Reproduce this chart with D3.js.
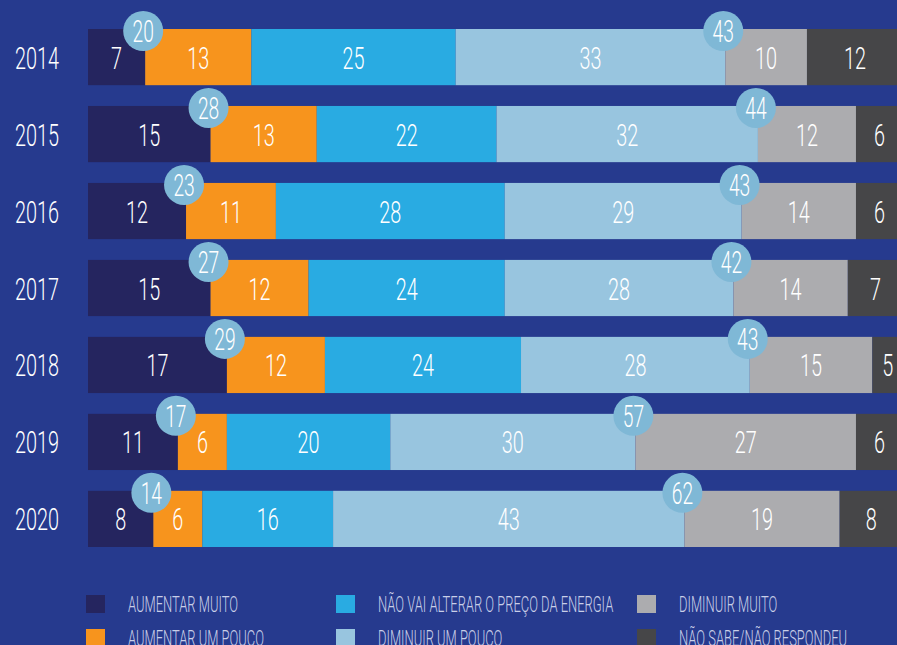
<!DOCTYPE html>
<html>
<head>
<meta charset="utf-8">
<script src="https://cdn.jsdelivr.net/npm/d3@7"></script>
<style>
  body { margin: 0; background: #263a8e; overflow: hidden; }
  svg { display: block; }
  text { font-family: Roboto, "Liberation Sans Narrow", sans-serif; font-weight: 300; }
</style>
</head>
<body>
<div id="chart"></div>
<script>
//*********************** DATA ***********************
var years = ["2014", "2015", "2016", "2017", "2018", "2019", "2020"];
var categories = ["Aumentar muito", "Aumentar um pouco", "Não vai alterar o preço da energia",
                  "Diminuir um pouco", "Diminuir muito", "Não sabe/Não respondeu"];
var aumentarMuito   = [7, 15, 12, 15, 17, 11, 8];
var aumentarPouco   = [13, 13, 11, 12, 12, 6, 6];
var naoAltera       = [25, 22, 28, 24, 24, 20, 16];
var diminuirPouco   = [33, 32, 29, 28, 28, 30, 43];
var diminuirMuito   = [10, 12, 14, 14, 15, 27, 19];
var naoSabe         = [12, 6, 6, 7, 5, 6, 8];
var colors = ["#25255f", "#f7941d", "#29abe2", "#98c5df", "#acacaf", "#464648"];

//*********************** DECLARE VARIABLES ***********************
var width = 897,
    height = 645,
    squeeze = 0.62,
    fontSize = 32;

var series = [aumentarMuito, aumentarPouco, naoAltera, diminuirPouco, diminuirMuito, naoSabe];
var data = years.map(function(y, i) {
  var row = {year: y};
  categories.forEach(function(c, j) { row[c] = series[j][i]; });
  return row;
});

var xScale = d3.scaleLinear().domain([0, 100]).range([88, 905]),
    yScale = d3.scaleBand().domain(years).range([29, 547]).paddingInner(0.27).paddingOuter(0),
    color = d3.scaleOrdinal().domain(categories).range(colors);

var stacked = d3.stack().keys(categories)(data);

var svg = d3.select("#chart").append("svg")
  .attr("width", width)
  .attr("height", height);

function label(g, x, y, txt, size, fill) {
  g.append("text")
    .attr("transform", "translate(" + x + "," + y + ") scale(" + squeeze + ",1)")
    .attr("text-anchor", "middle")
    .attr("font-size", size)
    .attr("fill", fill)
    .text(txt);
}

//*********************** BARS ***********************
var layers = svg.append("g").selectAll("g")
  .data(stacked)
  .enter().append("g")
  .attr("fill", function(d) { return color(d.key); });

layers.selectAll("rect")
  .data(function(d) { return d; })
  .enter().append("rect")
  .attr("x", function(d) { return xScale(d[0]); })
  .attr("y", function(d) { return yScale(d.data.year); })
  .attr("width", function(d) { return xScale(d[1]) - xScale(d[0]); })
  .attr("height", yScale.bandwidth());

//numbers inside segments
var labels = svg.append("g");
stacked.forEach(function(layer) {
  layer.forEach(function(d) {
    var cx = (xScale(d[0]) + Math.min(xScale(d[1]), width)) / 2;
    if (layer.key === categories[5]) cx = (xScale(d[0]) + width) / 2 + 3;
    label(labels, cx, yScale(d.data.year) + yScale.bandwidth() / 2 + 11.5,
          d.data[layer.key], fontSize, "#ffffff");
  });
});

//year labels
years.forEach(function(y) {
  label(svg, 37, yScale(y) + yScale.bandwidth() / 2 + 11.5, y, fontSize, "#ffffff");
});

//*********************** TOTAL BUBBLES ***********************
var bubbles = svg.append("g");
data.forEach(function(d, i) {
  var up = stacked[0][i][1],
      down = stacked[4][i][0];
  [[up, aumentarMuito[i] + aumentarPouco[i]], [down, diminuirPouco[i] + diminuirMuito[i]]]
    .forEach(function(b) {
      var cx = xScale(b[0]) - 2,
          cy = yScale(d.year) + 2;
      bubbles.append("circle")
        .attr("cx", cx)
        .attr("cy", cy)
        .attr("r", 20)
        .attr("fill", "#7fb8d6");
      label(bubbles, cx, cy + 11, b[1], 31, "#ffffff");
    });
});

//*********************** LEGEND ***********************
var legendPos = [[86, 595], [86, 629], [336, 595], [336, 629], [637, 595], [637, 629]];
var legend = svg.append("g");
categories.forEach(function(c, i) {
  var p = legendPos[i];
  legend.append("rect")
    .attr("x", p[0])
    .attr("y", p[1])
    .attr("width", 19)
    .attr("height", 18)
    .attr("fill", colors[i]);
  legend.append("text")
    .attr("transform", "translate(" + (p[0] + 42) + "," + (p[1] + 17) + ") scale(0.575,1)")
    .attr("font-size", 22.5)
    .attr("fill", "#c9cfe8")
    .text(c.toUpperCase());
});
</script>
</body>
</html>
